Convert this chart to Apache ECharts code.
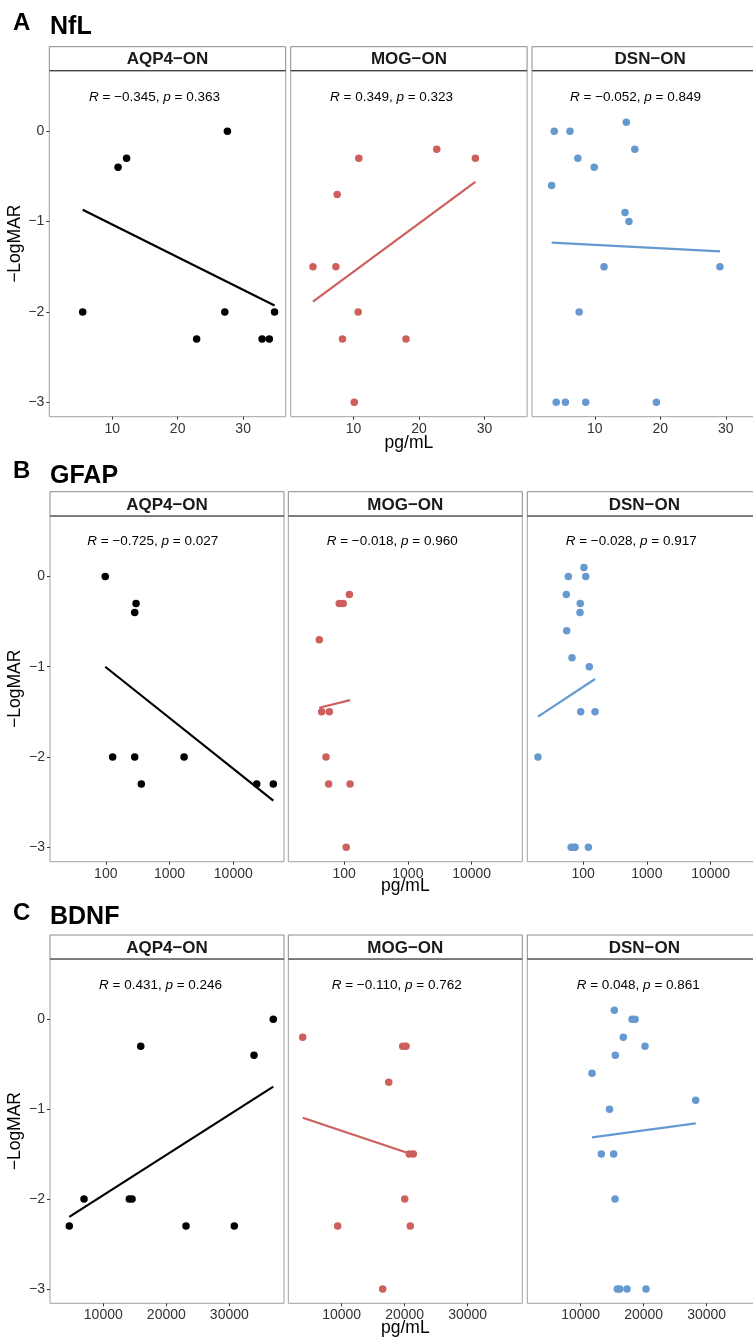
<!DOCTYPE html>
<html><head><meta charset="utf-8">
<script src="https://cdn.jsdelivr.net/npm/echarts@6/dist/echarts.min.js"></script>
<style>html,body{margin:0;padding:0;background:#fff}#c{width:753px;height:1340px}</style>
</head><body><div id="c"></div><script>
// ---------- data ----------
const groups = ['AQP4−ON', 'MOG−ON', 'DSN−ON'];
const markers = ['NfL', 'GFAP', 'BDNF'];
const panelLetters = ['A', 'B', 'C'];
const yTicks = [0, -1, -2, -3];
const nflTicks = [10, 20, 30];
const gfapTicks = [100, 1000, 10000];
const bdnfTicks = [10000, 20000, 30000];
const xTitle = 'pg/mL';
const yTitle = '−LogMAR';

const nflAQP4 = [[5.5,-2],[10.9,-0.4],[12.2,-0.3],[27.6,0],[27.2,-2],[22.9,-2.3],[32.9,-2.3],[34.0,-2.3],[34.8,-2]];
const nflMOG  = [[3.8,-1.5],[7.3,-1.5],[7.5,-0.7],[10.8,-0.3],[22.7,-0.2],[28.6,-0.3],[10.7,-2],[8.3,-2.3],[18.0,-2.3],[10.1,-3]];
const nflDSN  = [[3.8,0],[6.2,0],[14.8,0.1],[16.1,-0.2],[7.4,-0.3],[9.9,-0.4],[3.4,-0.6],[14.6,-0.9],[15.2,-1.0],[11.4,-1.5],[29.1,-1.5],[7.6,-2],[4.1,-3],[5.5,-3],[8.6,-3],[19.4,-3]];

const gfapAQP4 = [[98,0],[298,-0.3],[284,-0.4],[128,-2],[284,-2],[1690,-2],[361,-2.3],[23300,-2.3],[42400,-2.3]];
const gfapMOG  = [[121,-0.2],[84,-0.3],[97,-0.3],[40.8,-0.7],[44.5,-1.5],[58.6,-1.5],[52,-2],[57.3,-2.3],[124,-2.3],[108,-3]];
const gfapDSN  = [[103,0.1],[58.6,0],[110,0],[54.5,-0.2],[90.3,-0.3],[89.4,-0.4],[55.3,-0.6],[67,-0.9],[125,-1.0],[91.7,-1.5],[154,-1.5],[19.6,-2],[65,-3],[71,-3],[75,-3],[121,-3]];

const bdnfAQP4 = [[4600,-2.3],[6940,-2],[14130,-2],[14560,-2],[15940,-0.3],[23130,-2.3],[30790,-2.3],[33920,-0.4],[36980,0]];
const bdnfMOG  = [[3830,-0.2],[19700,-0.3],[20220,-0.3],[17480,-0.7],[20750,-1.5],[21380,-1.5],[20020,-2],[9380,-2.3],[20900,-2.3],[16520,-3]];
const bdnfDSN  = [[15350,0.1],[18160,0],[18640,0],[16780,-0.2],[20220,-0.3],[15510,-0.4],[11810,-0.6],[28270,-0.9],[14590,-1.0],[13290,-1.5],[15250,-1.5],[15460,-2],[15830,-3],[16210,-3],[17370,-3],[20380,-3]];

// fitted regression lines (endpoints)
const nflFitAQP4 = [[5.5,-0.87],[34.8,-1.93]];
const nflFitMOG  = [[3.8,-1.885],[28.6,-0.56]];
const nflFitDSN  = [[3.4,-1.233],[29.1,-1.33]];
const gfapFitAQP4 = [[98,-1.0],[42400,-2.483]];
const gfapFitMOG  = [[40.8,-1.455],[124,-1.37]];
const gfapFitDSN  = [[19.6,-1.552],[154,-1.136]];
const bdnfFitAQP4 = [[4600,-2.198],[36980,-0.75]];
const bdnfFitMOG  = [[3830,-1.096],[21000,-1.5]];
const bdnfFitDSN  = [[11810,-1.314],[28270,-1.158]];

const nflR = ['−0.345', '0.349', '−0.052'];
const nflP = ['0.363', '0.323', '0.849'];
const gfapR = ['−0.725', '−0.018', '−0.028'];
const gfapP = ['0.027', '0.960', '0.917'];
const bdnfR = ['0.431', '−0.110', '0.048'];
const bdnfP = ['0.246', '0.762', '0.861'];

// ---------- layout / style ----------
const FONT = 'Liberation Sans, Arial, sans-serif';
const colors = ['#000000', '#CD5F5C', '#6699D0'];
const rows = [
  { pts: [nflAQP4, nflMOG, nflDSN], fits: [nflFitAQP4, nflFitMOG, nflFitDSN], R: nflR, P: nflP, ticks: nflTicks,
    type: 'value', xmin: 0.4, xmax: 36.5,
    stripTop: 46.7, top: 70.7, bottom: 416.7, lefts: [49.3, 290.7, 532], width: 236.4,
    letterY: 23, titleY: 27.5, annY: 97, annX: [89, 330, 570], xTitleY: 443 },
  { pts: [gfapAQP4, gfapMOG, gfapDSN], fits: [gfapFitAQP4, gfapFitMOG, gfapFitDSN], R: gfapR, P: gfapP, ticks: gfapTicks,
    type: 'log', xmin: 13.33, xmax: 62400,
    stripTop: 491.7, top: 516, bottom: 861.7, lefts: [50, 288.3, 527.3], width: 234,
    letterY: 471.5, titleY: 476, annY: 541.7, annX: [87.3, 326.7, 565.7], xTitleY: 886 },
  { pts: [bdnfAQP4, bdnfMOG, bdnfDSN], fits: [bdnfFitAQP4, bdnfFitMOG, bdnfFitDSN], R: bdnfR, P: bdnfP, ticks: bdnfTicks,
    type: 'value', xmin: 1540, xmax: 38680,
    stripTop: 935, top: 959, bottom: 1303.3, lefts: [50, 288.3, 527.3], width: 234,
    letterY: 913.3, titleY: 917.5, annY: 985, annX: [99, 331.7, 576.7], xTitleY: 1328 }
];

const grid = [], xAxis = [], yAxis = [], series = [], graphic = [];
const fmtY = v => v < 0 ? '−' + Math.abs(v) : String(v);
const fmtX = v => String(Math.round(v));

rows.forEach((r, ri) => {
  graphic.push({ type: 'text', x: 13, y: r.letterY, z: 10,
    style: { text: panelLetters[ri], font: 'bold 24px ' + FONT, fill: '#000', textVerticalAlign: 'middle' } });
  graphic.push({ type: 'text', x: 50, y: r.titleY, z: 10,
    style: { text: markers[ri], font: 'bold 25px ' + FONT, fill: '#000', textVerticalAlign: 'middle' } });
  const h = r.bottom - r.top;
  graphic.push({ type: 'text', x: 15, y: (r.top + r.bottom) / 2, rotation: Math.PI / 2, z: 10,
    style: { text: yTitle, font: '17.5px ' + FONT, fill: '#000', textAlign: 'center', textVerticalAlign: 'middle' } });
  graphic.push({ type: 'text', x: r.lefts[1] + r.width / 2, y: r.xTitleY, z: 10,
    style: { text: xTitle, font: '17.5px ' + FONT, fill: '#000', textAlign: 'center', textVerticalAlign: 'middle' } });

  groups.forEach((g, ci) => {
    const idx = ri * 3 + ci;
    const L = r.lefts[ci];
    grid.push({ left: L, top: r.top, width: r.width, height: h, show: true, containLabel: false,
      outerBoundsMode: 'none',
      borderColor: '#a0a0a0', borderWidth: 1, backgroundColor: 'transparent' });
    xAxis.push({ gridIndex: idx, type: r.type, logBase: 10, min: r.xmin, max: r.xmax, position: 'bottom',
      axisLine: { show: false, onZero: false }, splitLine: { show: false },
      axisTick: { show: true, length: 3, inside: false, customValues: r.ticks, lineStyle: { color: '#333' } },
      axisLabel: { show: true, customValues: r.ticks, formatter: fmtX, fontSize: 14, color: '#333', margin: 5, fontFamily: FONT } });
    yAxis.push({ gridIndex: idx, type: 'value', min: -3.16, max: 0.67, position: 'left',
      axisLine: { show: false, onZero: false }, splitLine: { show: false },
      axisTick: { show: ci === 0, length: 3, customValues: yTicks, lineStyle: { color: '#333' } },
      axisLabel: { show: ci === 0, customValues: yTicks, formatter: fmtY, fontSize: 14, color: '#333', margin: 5, fontFamily: FONT } });
    series.push({ type: 'scatter', xAxisIndex: idx, yAxisIndex: idx, data: r.pts[ci], symbolSize: 7.5,
      itemStyle: { color: colors[ci], opacity: 1 }, z: 2, silent: true });
    series.push({ type: 'line', xAxisIndex: idx, yAxisIndex: idx, data: r.fits[ci], showSymbol: false, symbol: 'none',
      lineStyle: { color: colors[ci], width: 2.2 }, z: 3, silent: true });
    // strip
    graphic.push({ type: 'rect', z: 5, shape: { x: L, y: r.stripTop, width: r.width, height: r.top - r.stripTop },
      style: { fill: '#fff', stroke: '#8a8a8a', lineWidth: 1 } });
    graphic.push({ type: 'line', z: 6, shape: { x1: L, y1: r.top, x2: L + r.width, y2: r.top },
      style: { stroke: '#444', lineWidth: 1.2 } });
    graphic.push({ type: 'text', z: 7, x: L + r.width / 2, y: (r.stripTop + r.top) / 2 + 1,
      style: { text: g, font: 'bold 17px ' + FONT, fill: '#1a1a1a', textAlign: 'center', textVerticalAlign: 'middle' } });
    // correlation annotation
    graphic.push({ type: 'text', z: 7, x: r.annX[ci], y: r.annY,
      style: { text: '{i|R} = ' + r.R[ci] + ', {i|p} = ' + r.P[ci], font: '13.5px ' + FONT, fill: '#000',
        textVerticalAlign: 'middle', rich: { i: { fontStyle: 'italic', fontSize: 13.5, fontFamily: FONT } } } });
  });
});

const chart = echarts.init(document.getElementById('c'), null, { renderer: 'canvas' });
chart.setOption({ animation: false, backgroundColor: '#fff', grid, xAxis, yAxis, series, graphic });
</script></body></html>
